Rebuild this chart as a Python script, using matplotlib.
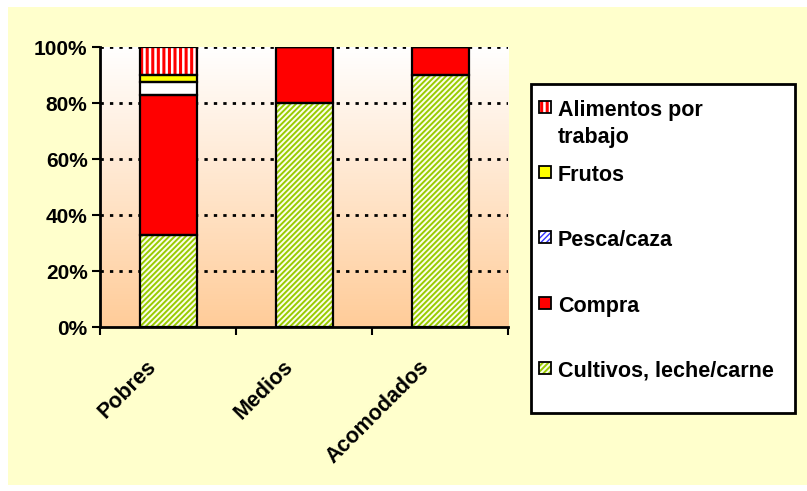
import numpy as np
import matplotlib
matplotlib.use("Agg")
import matplotlib.pyplot as plt
import matplotlib.transforms as mtransforms
from matplotlib.patches import Rectangle
from matplotlib.colors import LinearSegmentedColormap

plt.rcParams['font.family'] = ['Liberation Sans', 'DejaVu Sans']
plt.rcParams['font.weight'] = 'bold'

# datos
grupos = ['Pobres', 'Medios', 'Acomodados']
cultivos = [33, 80, 90]
compra = [50, 20, 10]
pesca = [4.5, 0, 0]
frutos = [2.5, 0, 0]
alimentos = [10, 0, 0]

# nombre, valores, fondo, color del rayado, rayado barra, rayado leyenda, grosor rayado
series = [
    ('Cultivos, leche/carne', cultivos, '#fbfde9', '#99cc00', '//////', '//////', 1.4),
    ('Compra', compra, '#ff0000', '#ff0000', None, None, 1.0),
    ('Pesca/caza', pesca, '#ffffff', '#3333ff', None, '//////', 1.0),
    ('Frutos', frutos, '#ffff00', '#ffff00', None, None, 1.0),
    ('Alimentos por\ntrabajo', alimentos, '#ffffff', '#ff0000', '|||', '|||', 2.2),
]

W, H = 807, 491
fig = plt.figure(figsize=(W / 100, H / 100), dpi=100, facecolor='white')
fig.patches.append(Rectangle((0.01, 0.012), 0.99, 0.974, transform=fig.transFigure,
                             facecolor='#ffffcc', edgecolor='none', zorder=-10))

ax = fig.add_axes([0.124, 0.334, 0.506, 0.570])
ax.set_xlim(0, 3)
ax.set_ylim(0, 100)
ax.patch.set_visible(False)

# fondo degradado
cmap = LinearSegmentedColormap.from_list('bg', ['#ffcc99', '#ffffff'])
grad = np.linspace(0, 1, 256).reshape(-1, 1)
ax.imshow(grad, cmap=cmap, origin='lower', extent=[0, 3, 0, 100], aspect='auto', zorder=0)

for y in [20, 40, 60, 80, 100]:
    ax.axhline(y, color='black', linestyle=(0, (1.2, 2.2)), linewidth=2, zorder=1)

x = np.arange(len(grupos)) + 0.5
ancho = 0.42
base = np.zeros(len(grupos))
for nombre, vals, fc, hc, hatch, hatch_leg, hlw in series:
    vals = np.array(vals, dtype=float)
    with plt.rc_context({'hatch.linewidth': hlw}):
        ax.bar(x, vals, ancho, bottom=base, color=fc, edgecolor=hc, hatch=hatch,
               linewidth=0, zorder=3)
    ax.bar(x, vals, ancho, bottom=base, fill=False, edgecolor='black', linewidth=1.6, zorder=4)
    base += vals

ax.spines['top'].set_visible(False)
ax.spines['right'].set_visible(False)
ax.spines['left'].set_linewidth(2)
ax.spines['bottom'].set_linewidth(2)
ax.spines['left'].set_zorder(5)
ax.spines['bottom'].set_zorder(5)

ax.set_yticks([0, 20, 40, 60, 80, 100])
ax.set_yticklabels([f'{v}%' for v in [0, 20, 40, 60, 80, 100]], fontsize=15, fontweight='bold')
ax.tick_params(axis='y', length=6, width=1.5, direction='out', pad=3)

ax.set_xticks([0, 1, 2, 3])
ax.set_xticklabels([])
ax.set_xticks(x, minor=True)
ax.set_xticklabels(grupos, minor=True, rotation=45, ha='right', rotation_mode='anchor',
                   fontsize=15.5, fontweight='bold')
ax.tick_params(axis='x', which='major', length=6, width=1.5, direction='out')
ax.tick_params(axis='x', which='minor', length=0, pad=21)
desplaza = mtransforms.ScaledTranslation(-0.22, 0, fig.dpi_scale_trans)
for lab in ax.get_xticklabels(minor=True):
    lab.set_transform(lab.get_transform() + desplaza)

# leyenda (a mano, en píxeles de la figura)
def fx(px):
    return px / W

def fy(py):
    return 1 - py / H

fig.add_artist(Rectangle((fx(531), fy(413)), fx(795) - fx(531), (413 - 84) / H,
                         transform=fig.transFigure, facecolor='white',
                         edgecolor='black', linewidth=2, zorder=5))
filas = [107, 172, 237, 303, 368]
caja = 12
for fila, (nombre, vals, fc, hc, hatch, hatch_leg, hlw) in zip(filas, series[::-1]):
    with plt.rc_context({'hatch.linewidth': hlw}):
        fig.add_artist(Rectangle((fx(539), fy(fila + caja / 2)), caja / W, caja / H,
                                 transform=fig.transFigure, facecolor=fc, edgecolor=hc,
                                 hatch=hatch_leg, linewidth=0, zorder=6))
    fig.add_artist(Rectangle((fx(539), fy(fila + caja / 2)), caja / W, caja / H,
                             transform=fig.transFigure, fill=False, edgecolor='black',
                             linewidth=1.3, zorder=7))
    fig.text(fx(558), fy(fila - 7), nombre, fontsize=15.5, fontweight='bold',
             ha='left', va='top', linespacing=1.35, zorder=7)

fig.savefig('out.png', dpi=100, facecolor=fig.get_facecolor())
